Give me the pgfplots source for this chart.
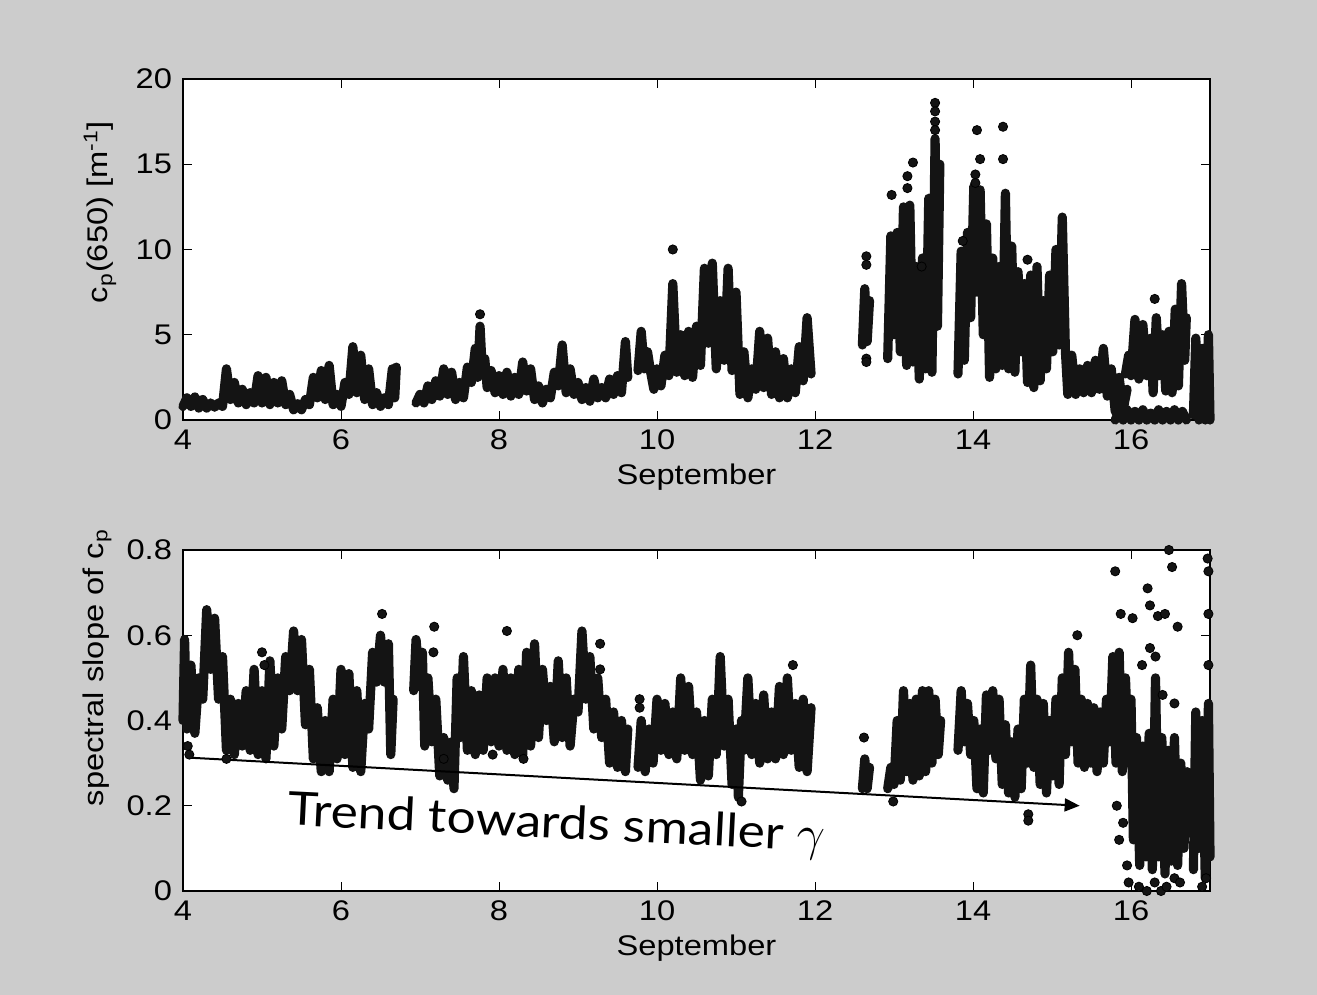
\documentclass[border=0pt]{standalone}
\usepackage{fontspec}
\setmainfont{Liberation Sans}[FakeStretch=1.15]
\newfontfamily\trendfont{Lato}[FakeStretch=1.12]
\usepackage{pgfplots}
\usepackage{pgfplotstable}
\pgfplotsset{compat=1.18}
\usetikzlibrary{arrows.meta}
\definecolor{bggray}{RGB}{204,204,204}
\definecolor{dotc}{RGB}{20,20,20}

\begin{document}
\pgfplotstableread{
x y
4.00 0.8
4.05 1.3
4.10 0.8
4.15 1.35
4.20 0.7
4.25 1.2
4.30 0.7
4.35 1.0
4.40 0.75
4.45 1.0
4.50 0.8
4.55 3.0
4.60 1.2
4.65 2.2
4.70 1.0
4.75 1.8
4.80 0.9
4.85 1.6
4.90 1.0
4.95 2.6
5.00 1.0
5.05 2.5
5.10 0.9
5.15 2.2
5.20 1.0
5.25 2.3
5.30 0.9
5.35 1.5
5.40 0.6
5.45 0.95
5.50 0.6
5.55 1.2
5.60 0.9
5.65 2.5
5.70 1.3
5.75 2.9
5.80 1.2
5.85 3.2
5.90 0.9
5.95 1.5
6.00 0.8
6.05 2.2
6.10 1.5
6.15 4.3
6.20 1.6
6.25 3.8
6.30 1.2
6.35 3.0
6.40 0.9
6.45 1.6
6.50 0.8
6.55 1.3
6.60 0.9
6.65 3.0
6.68 1.3
6.70 3.1
6.80 nan
6.95 1.0
7.00 1.5
7.05 1.0
7.10 2.0
7.15 1.2
7.20 2.3
7.25 1.4
7.30 3.0
7.35 1.5
7.40 2.8
7.45 1.2
7.50 2.2
7.55 1.3
7.60 3.1
7.65 2.2
7.70 4.2
7.73 2.5
7.76 5.5
7.79 2.8
7.82 3.6
7.85 1.9
7.90 2.9
7.95 1.6
8.00 2.6
8.05 1.5
8.10 2.8
8.15 1.4
8.20 2.5
8.25 1.5
8.30 3.4
8.35 1.7
8.40 3.0
8.45 1.2
8.50 2.0
8.55 1.0
8.60 1.8
8.65 1.3
8.70 2.8
8.75 2.0
8.80 4.4
8.85 1.6
8.90 3.0
8.95 1.5
9.00 2.2
9.05 1.2
9.10 1.9
9.15 1.1
9.20 2.4
9.25 1.3
9.30 1.9
9.35 1.3
9.40 2.4
9.45 1.5
9.50 2.6
9.55 1.6
9.60 4.6
9.63 2.5
9.70 nan
9.76 2.9
9.80 5.2
9.84 3.0
9.88 4.0
9.92 2.8
9.96 1.8
10.00 3.0
10.05 2.0
10.10 3.8
10.15 2.6
10.20 8.0
10.25 2.8
10.30 5.0
10.35 2.6
10.40 5.2
10.45 2.5
10.50 5.5
10.55 3.2
10.60 8.9
10.65 4.5
10.70 9.2
10.75 3.0
10.80 7.0
10.85 3.5
10.90 8.9
10.95 2.9
11.00 7.5
11.05 1.5
11.10 4.0
11.15 1.3
11.20 3.0
11.25 1.8
11.30 5.2
11.35 1.9
11.40 4.8
11.45 1.5
11.50 4.0
11.55 1.3
11.60 3.6
11.65 1.3
11.70 3.0
11.75 1.6
11.80 4.3
11.85 2.3
11.90 6.0
11.95 2.7
12.30 nan
12.60 4.4
12.63 7.7
12.66 4.6
12.69 7.0
12.80 nan
12.92 3.6
12.96 10.8
13.00 5.0
13.04 11.0
13.08 4.0
13.12 12.5
13.16 3.2
13.20 12.6
13.24 3.4
13.28 9.0
13.32 2.4
13.36 9.5
13.40 3.0
13.44 13.0
13.48 2.8
13.52 16.5
13.55 5.5
13.58 15.0
13.70 nan
13.81 2.7
13.85 9.9
13.89 3.5
13.93 11.0
13.97 6.0
14.01 13.7
14.05 7.5
14.09 13.5
14.13 5.0
14.17 11.5
14.21 2.5
14.25 9.5
14.29 3.0
14.33 9.0
14.37 3.2
14.41 13.3
14.45 3.0
14.49 10.2
14.53 2.8
14.57 8.7
14.61 4.0
14.65 8.0
14.69 2.2
14.73 8.5
14.77 1.9
14.81 9.0
14.85 2.3
14.89 7.0
14.93 3.0
14.97 8.5
15.01 4.0
15.05 10.0
15.09 4.4
15.13 11.9
15.17 4.0
15.20 1.5
15.25 3.8
15.30 1.5
15.35 3.0
15.40 1.6
15.45 3.2
15.50 1.6
15.55 3.5
15.60 1.8
15.65 4.2
15.70 1.4
15.75 3.0
15.80 0.5
15.85 2.5
15.90 0.6
15.95 1.8
15.96 nan
15.80 0.0
15.85 0.5
15.90 0.0
15.95 0.6
16.00 0.0
16.05 0.5
16.10 0.0
16.15 0.6
16.20 0.0
16.25 0.4
16.30 0.0
16.35 0.6
16.40 0.0
16.45 0.5
16.50 0.0
16.55 0.6
16.60 0.0
16.65 0.5
16.70 0.0
16.71 nan
15.93 2.7
15.97 3.8
16.00 2.6
16.05 5.9
16.10 2.4
16.15 5.6
16.20 2.6
16.25 4.8
16.28 1.6
16.32 6.0
16.36 2.6
16.40 5.0
16.44 1.7
16.48 5.2
16.52 1.6
16.56 6.5
16.60 2.0
16.64 8.0
16.68 3.5
16.70 6.0
16.75 nan
16.79 0.3
16.82 4.8
16.86 0.0
16.90 4.2
16.94 0.0
16.98 5.0
17.00 0.0
}\topband

\pgfplotstableread{
x y
7.76 6.2
10.20 10.0
12.65 9.6
12.65 9.1
12.65 3.6
12.65 3.4
12.97 13.2
13.17 14.3
13.17 13.6
13.24 15.1
13.35 9.0
13.52 18.6
13.52 18.1
13.52 17.5
13.52 17.0
13.87 10.5
14.05 17.0
14.09 15.3
14.03 14.4
14.03 13.9
14.38 17.2
14.38 15.3
14.69 9.4
16.30 7.1
}\topdots

\pgfplotstableread{
x y
4.00 0.40
4.02 0.59
4.05 0.38
4.10 0.53
4.15 0.37
4.20 0.50
4.25 0.45
4.30 0.66
4.35 0.52
4.40 0.64
4.45 0.45
4.50 0.55
4.55 0.33
4.60 0.45
4.65 0.32
4.70 0.44
4.75 0.34
4.80 0.47
4.85 0.33
4.90 0.52
4.95 0.32
5.00 0.47
5.05 0.31
5.10 0.54
5.15 0.34
5.20 0.50
5.25 0.38
5.30 0.55
5.35 0.47
5.40 0.61
5.45 0.47
5.50 0.59
5.55 0.39
5.60 0.52
5.65 0.31
5.70 0.43
5.75 0.28
5.80 0.40
5.85 0.28
5.90 0.45
5.95 0.31
6.00 0.52
6.05 0.32
6.10 0.51
6.15 0.29
6.20 0.47
6.25 0.28
6.30 0.44
6.35 0.38
6.40 0.56
6.45 0.49
6.50 0.60
6.55 0.49
6.60 0.58
6.63 0.32
6.66 0.45
6.80 nan
6.92 0.47
6.95 0.59
7.00 0.48
7.03 0.56
7.06 0.34
7.10 0.50
7.15 0.35
7.20 0.45
7.25 0.27
7.30 0.36
7.35 0.26
7.40 0.35
7.43 0.24
7.47 0.50
7.51 0.36
7.55 0.55
7.60 0.33
7.65 0.47
7.70 0.32
7.75 0.46
7.80 0.33
7.85 0.50
7.90 0.35
7.95 0.50
8.00 0.34
8.05 0.52
8.10 0.33
8.15 0.50
8.20 0.32
8.25 0.52
8.30 0.32
8.35 0.56
8.40 0.34
8.45 0.58
8.50 0.36
8.55 0.52
8.60 0.40
8.65 0.48
8.70 0.35
8.75 0.54
8.80 0.36
8.85 0.50
8.90 0.34
8.95 0.45
9.00 0.42
9.05 0.61
9.10 0.45
9.15 0.55
9.20 0.38
9.25 0.50
9.30 0.36
9.35 0.45
9.40 0.30
9.45 0.42
9.50 0.29
9.55 0.40
9.60 0.28
9.63 0.38
9.70 nan
9.76 0.29
9.80 0.40
9.85 0.28
9.90 0.38
9.95 0.30
10.00 0.45
10.05 0.33
10.10 0.44
10.15 0.32
10.20 0.42
10.25 0.31
10.30 0.50
10.35 0.33
10.40 0.48
10.45 0.32
10.50 0.42
10.55 0.26
10.60 0.40
10.65 0.27
10.70 0.45
10.75 0.32
10.80 0.55
10.85 0.34
10.90 0.45
10.95 0.25
11.00 0.38
11.03 0.22
11.07 0.40
11.10 0.33
11.15 0.50
11.20 0.32
11.25 0.44
11.30 0.30
11.35 0.46
11.40 0.31
11.45 0.42
11.50 0.31
11.55 0.48
11.60 0.32
11.65 0.50
11.70 0.33
11.75 0.44
11.80 0.29
11.85 0.45
11.90 0.28
11.95 0.43
12.30 nan
12.60 0.24
12.63 0.31
12.66 0.24
12.69 0.29
12.80 nan
12.92 0.24
12.96 0.29
13.00 0.25
13.04 0.40
13.08 0.26
13.12 0.47
13.16 0.28
13.20 0.44
13.24 0.26
13.28 0.45
13.32 0.27
13.36 0.47
13.40 0.28
13.44 0.47
13.48 0.30
13.52 0.45
13.56 0.32
13.59 0.40
13.70 nan
13.81 0.33
13.85 0.47
13.89 0.35
13.93 0.44
13.97 0.32
14.01 0.40
14.05 0.24
14.09 0.38
14.13 0.23
14.17 0.46
14.21 0.33
14.25 0.47
14.29 0.31
14.33 0.45
14.37 0.25
14.41 0.39
14.45 0.23
14.49 0.35
14.53 0.22
14.57 0.38
14.61 0.24
14.65 0.45
14.69 0.30
14.73 0.53
14.77 0.29
14.81 0.45
14.85 0.25
14.89 0.44
14.93 0.23
14.97 0.40
15.01 0.27
15.05 0.45
15.09 0.25
15.13 0.50
15.17 0.32
15.21 0.56
15.25 0.35
15.29 0.52
15.33 0.30
15.37 0.45
15.41 0.29
15.45 0.44
15.49 0.30
15.53 0.43
15.57 0.28
15.61 0.42
15.65 0.30
15.69 0.45
15.73 0.35
15.77 0.55
15.81 0.30
15.85 0.56
15.89 0.28
15.93 0.50
15.97 0.30
16.00 0.45
16.03 0.12
16.07 0.36
16.11 0.06
16.15 0.34
16.19 0.08
16.23 0.37
16.27 0.05
16.31 0.50
16.35 0.08
16.39 0.36
16.43 0.04
16.47 0.33
16.51 0.07
16.55 0.36
16.59 0.06
16.63 0.30
16.67 0.10
16.71 0.28
16.75 nan
16.79 0.05
16.82 0.42
16.86 0.10
16.90 0.40
16.94 0.03
16.98 0.44
17.00 0.08
}\botband

\pgfplotstableread{
x y
4.06 0.34
4.08 0.32
4.55 0.31
5.00 0.56
5.03 0.53
6.52 0.65
7.18 0.62
7.17 0.56
7.30 0.31
7.92 0.32
8.10 0.61
8.31 0.31
9.28 0.58
9.28 0.52
9.78 0.45
9.78 0.43
11.07 0.21
11.72 0.53
12.62 0.36
12.99 0.21
14.70 0.18
14.70 0.165
15.32 0.60
15.80 0.75
15.87 0.65
16.02 0.64
16.21 0.71
16.24 0.67
16.34 0.645
16.43 0.65
16.48 0.80
16.52 0.76
16.59 0.62
16.24 0.57
16.14 0.53
16.31 0.55
16.40 0.46
16.55 0.44
16.97 0.78
16.98 0.75
16.98 0.65
16.98 0.53
16.10 0.01
16.20 0.00
16.30 0.02
16.38 0.00
16.45 0.01
16.55 0.03
16.62 0.02
16.90 0.01
16.95 0.03
15.82 0.20
15.85 0.12
15.90 0.16
15.95 0.06
15.97 0.02
}\botdots

\begin{tikzpicture}
\path[use as bounding box] (0,0) rectangle (658.5pt,497.5pt);
\fill[bggray] (0,0) rectangle (658.5pt,497.5pt);
\pgfplotsset{
  panel/.style={
    scale only axis, width=513.5pt, height=170.5pt, anchor=south west,
    xmin=4, xmax=17, xtick={4,6,8,10,12,14,16},
    xticklabels={4,6,8,10,12,14,16},
    tick align=inside, major tick length=4.5pt,
    tick style={black, line width=0.5pt},
    axis line style={line width=0.6pt},
    axis background/.style={fill=white},
    ticklabel style={font=\fontsize{14.2}{16}\selectfont},
    label style={font=\fontsize{14.2}{16}\selectfont},
    xticklabel style={yshift=-1.5pt},
    yticklabel style={xshift=-2pt},
    xlabel={September},
    xlabel style={at={([yshift=-32.5pt]axis description cs:0.5,0)}, anchor=base},
    unbounded coords=jump, clip=false,
  },
  band/.style={draw=dotc, line width=4.6pt, line join=round, line cap=round, mark=none},
  dots/.style={only marks, mark=*, mark size=2.3pt, mark options={draw=none, fill=dotc}},
}
\begin{axis}[panel, at={(91.5pt,287.5pt)},
  ymin=0, ymax=20, ytick={0,5,10,15,20}, yticklabels={0,5,10,15,20},
  ylabel={c\textsubscript{p}(650) [m\textsuperscript{-1}]},
  ylabel style={at={([xshift=-41.5pt]axis description cs:0,0.61)}, anchor=center}]
\addplot[band] table {\topband};
\addplot[dots] table {\topdots};
\end{axis}
\begin{axis}[panel, at={(91.5pt,52pt)},
  ymin=0, ymax=0.8, ytick={0,0.2,0.4,0.6,0.8}, yticklabels={0,0.2,0.4,0.6,0.8},
  ylabel={spectral slope of c\textsubscript{p}},
  ylabel style={at={([xshift=-43pt]axis description cs:0,0.655)}, anchor=center}]
\addplot[band] table {\botband};
\addplot[dots] table {\botdots};
\draw[line width=1pt, -{Triangle[length=7.5pt,width=6.5pt]}] (axis cs:4.06,0.313) -- (axis cs:15.35,0.200);
\node[anchor=base west, rotate=-2.8, inner sep=0pt, font=\trendfont\fontsize{23}{26}\selectfont] at (axis cs:5.32,0.155) {Trend towards smaller $\gamma$};
\end{axis}
\end{tikzpicture}
\end{document}
